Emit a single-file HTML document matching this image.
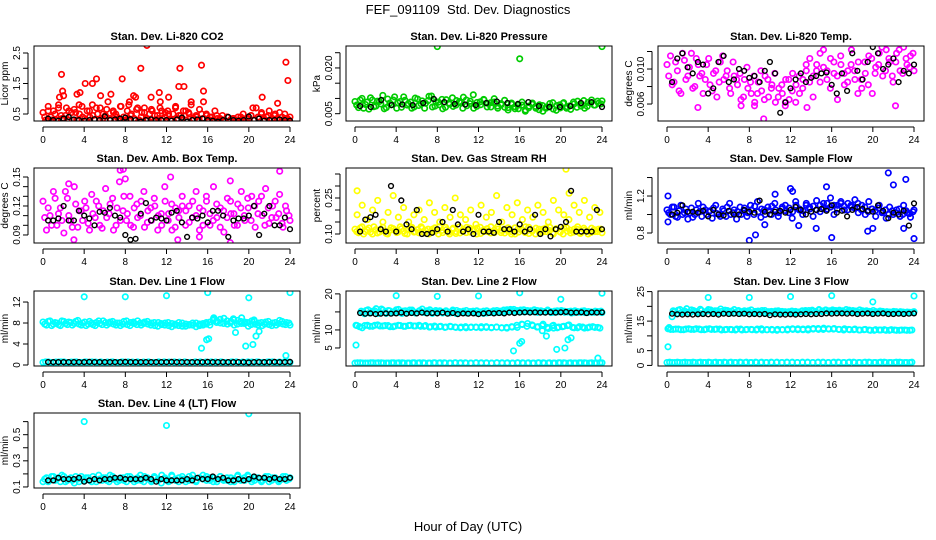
<!DOCTYPE html>
<html><head><meta charset="utf-8"><title>FEF_091109 Std. Dev. Diagnostics</title>
<style>
html,body{margin:0;padding:0;background:#fff;}
svg{display:block;font-family:"Liberation Sans",sans-serif;}
.t{font-weight:bold;font-size:11px;text-anchor:middle;}
.tl{font-size:10px;text-anchor:middle;}
.yl{font-size:10px;text-anchor:middle;}
</style></head>
<body>
<svg id="chart" width="936" height="540" viewBox="0 0 936 540">
<text x="468" y="14" font-size="13" text-anchor="middle">FEF_091109&#160; Std. Dev. Diagnostics</text>
<text x="468" y="531" font-size="13" text-anchor="middle">Hour of Day (UTC)</text>
</svg>
<script>
// ---------- data ----------
const hourTicks = [0,4,8,12,16,20,24];

const co2 = [0.55,0.3,0.75,0.4,0.6,0.3,0.8,0.45,0.35,0.7,0.3,0.55,0.65,0.3,0.5,0.75,0.35,0.6,0.4,0.8,0.3,0.5,0.7,0.35,0.45,0.9,0.3,0.6,0.5,0.35,0.75,0.4,0.3,0.8,0.5,0.35,0.65,0.3,0.55,0.7,0.35,0.5,0.6,0.3,0.45,0.7,0.35,0.55,0.6,0.3,0.5,0.75,0.35,0.45,0.6,0.3,0.55,0.8,0.35,0.4,0.3,0.5,0.35,0.45,0.3,0.4,0.25,0.35,0.3,0.45,0.25,0.4,0.3,0.35,0.25,0.4,0.3,0.5,0.25,0.35,0.45,0.3,0.7,0.35,0.5,0.3,0.4,0.6,0.3,0.45,0.35,0.55,0.3,0.5,0.35,0.4];
const co2B = [0.4,0.6,0.3,0.5,0.7,0.35,0.45,0.6,0.3,0.55,0.8,0.4,0.3,0.6,0.45,0.7,0.3,0.5,0.65,0.35,0.55,0.4,0.75,0.3,0.6,0.45,0.35,0.7,0.4,0.55,0.3,0.65,0.45,0.35,0.6,0.4,0.5,0.3,0.7,0.45,0.35,0.6,0.5,0.3,0.45,0.65,0.35,0.5,0.4,0.3,0.45,0.35,0.3,0.4,0.3,0.35,0.25,0.4,0.3,0.35,0.45,0.3,0.4,0.55,0.3,0.45,0.35,0.5,0.3,0.4,0.35,0.3];
const co2Out = [[1.8,1.8],[1.9,1.25],[2,1.1],[1.6,1.05],[3.3,1.15],[3.6,1.2],[4.1,1.5],[4.8,1.5],[5.2,1.65],[5.6,1.1],[6.6,1.15],[7.7,1.65],[9.5,2.0],[8.4,0.9],[10.1,2.75],[10.5,1.05],[11.3,1.2],[11.4,0.9],[12.2,1.05],[13.2,1.4],[13.3,2.0],[13.7,1.4],[15.4,2.1],[15.6,1.25],[15.6,0.9],[14.4,0.9],[21.3,1.05],[22.8,0.85],[23.6,2.2],[23.8,1.6],[16.7,0.6],[20.4,0.7],[8.8,1.1],[9,1.05]];
const co2Black = [0.35,0.3,0.28,0.35,0.4,0.32,0.3,0.28,0.3,0.33,0.3,0.42,0.3,0.32,0.35,0.38,0.33,0.3,0.25,0.3,0.32,0.3,0.3,0.3,0.28,0.32,0.38,0.25,0.3,0.32,0.35,0.3,0.28,0.25,0.3,0.4,0.3,0.28,0.3,0.42,0.3,0.35,0.28,0.3,0.3,0.32,0.3,0.28];

const press = [0.009,0.007,0.010,0.008,0.0065,0.0095,0.0075,0.009,0.011,0.007,0.0085,0.0095,0.0068,0.009,0.0105,0.0078,0.0088,0.0072,0.0098,0.0082,0.0068,0.0093,0.0108,0.0075,0.0088,0.0097,0.0071,0.0085,0.0102,0.0078,0.009,0.0068,0.0095,0.0083,0.0112,0.0074,0.0089,0.0097,0.0072,0.0086,0.0099,0.0075,0.0083,0.0094,0.007,0.0081,0.0066,0.0078,0.0088,0.0062,0.0075,0.0085,0.0068,0.0079,0.0058,0.0072,0.0083,0.0065,0.0077,0.0069,0.0086,0.0073,0.0064,0.0082,0.0091,0.0075,0.0068,0.0087,0.0095,0.0078,0.0084,0.0092];
const pressB = [0.0078,0.0095,0.0068,0.0088,0.0102,0.0073,0.0091,0.0082,0.0066,0.0098,0.0079,0.0105,0.0086,0.0071,0.0094,0.0083,0.0068,0.0101,0.0077,0.0092,0.0084,0.0107,0.0072,0.0089,0.0079,0.0066,0.0096,0.0081,0.0074,0.0093,0.0086,0.0104,0.0076,0.0091,0.0068,0.0087,0.0079,0.0095,0.0084,0.0072,0.0088,0.0068,0.0079,0.0071,0.0062,0.0085,0.0073,0.0066,0.0078,0.0058,0.0069,0.0081,0.0074,0.0063,0.0077,0.0068,0.0072,0.0086,0.0061,0.0079,0.0084,0.0068,0.0076,0.0088,0.0071,0.0082,0.0093,0.0074,0.0085,0.0078,0.0091,0.0082];
const pressOut = [[8,0.027],[16,0.023],[24,0.027]];
const pressBlack = [0.0075,0.0072,0.0095,0.0078,0.008,0.0078,0.0085,0.0098,0.0088,0.0082,0.008,0.0078,0.0085,0.009,0.0085,0.0082,0.0088,0.0075,0.0072,0.0072,0.0075,0.0085,0.0088,0.0072];

const temp = [0.0105,0.0115,0.0085,0.0098,0.0072,0.011,0.0092,0.0118,0.008,0.0105,0.0095,0.0088,0.0112,0.0075,0.0098,0.0085,0.0115,0.0092,0.0078,0.0108,0.0088,0.0095,0.0068,0.0102,0.0085,0.0092,0.0072,0.0098,0.0065,0.0088,0.0078,0.0095,0.0068,0.0082,0.0058,0.0088,0.0075,0.0062,0.0092,0.0078,0.0105,0.0085,0.0068,0.0098,0.0118,0.0102,0.0088,0.0112,0.0095,0.0065,0.0105,0.0082,0.0098,0.0122,0.0088,0.0108,0.0078,0.0095,0.0115,0.0072,0.0102,0.0118,0.0092,0.0122,0.0108,0.0085,0.0118,0.0098,0.0125,0.0105,0.0115,0.0098];
const tempB = [0.0092,0.0082,0.0108,0.0075,0.0118,0.0088,0.0102,0.0078,0.0112,0.0092,0.0072,0.0105,0.0082,0.0095,0.0068,0.0108,0.0088,0.0098,0.0072,0.0092,0.0082,0.0065,0.0088,0.0078,0.0072,0.0062,0.0085,0.0075,0.0092,0.0068,0.0082,0.0062,0.0078,0.0072,0.0088,0.0065,0.0095,0.0082,0.0072,0.0088,0.0098,0.0112,0.0092,0.0105,0.0085,0.0122,0.0098,0.0078,0.0108,0.0092,0.0115,0.0095,0.0085,0.0105,0.0098,0.0072,0.0088,0.0108,0.0082,0.0112,0.0095,0.0105,0.0125,0.0098,0.0112,0.0092,0.0108,0.0122,0.0095,0.0112,0.0102,0.0118];
const tempOut = [[9.4,0.0043],[3,0.0056],[8.5,0.0058],[7.2,0.0058],[22.2,0.0058],[11.5,0.0062],[13.6,0.0056]];
const tempBlack = [0.0085,0.0112,0.0118,0.0102,0.0095,0.0108,0.0105,0.0072,0.0078,0.0108,0.0115,0.0085,0.0088,0.01,0.0098,0.009,0.0092,0.0085,0.0098,0.0108,0.0095,0.005,0.0062,0.0078,0.0088,0.0095,0.0085,0.009,0.0092,0.0095,0.0096,0.0082,0.0072,0.0095,0.0075,0.0118,0.0098,0.0088,0.0108,0.0125,0.0118,0.01,0.0105,0.0112,0.0085,0.0098,0.0095,0.0105];

const amb = [0.125,0.095,0.11,0.135,0.1,0.118,0.092,0.128,0.105,0.14,0.098,0.115,0.125,0.102,0.132,0.108,0.12,0.097,0.138,0.112,0.128,0.1,0.145,0.115,0.105,0.13,0.098,0.122,0.11,0.135,0.103,0.118,0.128,0.095,0.112,0.14,0.105,0.122,0.098,0.115,0.13,0.1,0.12,0.108,0.135,0.095,0.115,0.125,0.1,0.14,0.108,0.118,0.093,0.128,0.112,0.1,0.122,0.135,0.105,0.118,0.13,0.098,0.125,0.11,0.138,0.102,0.12,0.108,0.132,0.098,0.115,0.105];
const ambB = [0.108,0.118,0.1,0.128,0.112,0.105,0.135,0.11,0.098,0.122,0.115,0.105,0.118,0.095,0.112,0.125,0.1,0.115,0.108,0.122,0.095,0.118,0.105,0.13,0.112,0.1,0.118,0.108,0.125,0.098,0.115,0.105,0.12,0.11,0.1,0.125,0.112,0.095,0.118,0.108,0.12,0.115,0.103,0.125,0.11,0.118,0.1,0.13,0.112,0.105,0.122,0.098,0.115,0.108,0.125,0.112,0.1,0.118,0.11,0.128,0.105,0.12,0.112,0.13,0.1,0.118,0.108,0.125,0.112,0.102,0.12,0.11];
const ambOut = [[7.5,0.157],[7.8,0.158],[8,0.148],[12.4,0.15],[18.2,0.146],[23,0.156],[2.5,0.143],[18.2,0.082],[3,0.085],[13.1,0.085],[15.2,0.088]];
const ambBlack = [0.105,0.105,0.107,0.12,0.105,0.105,0.115,0.11,0.107,0.1,0.114,0.113,0.118,0.11,0.108,0.09,0.085,0.086,0.112,0.123,0.105,0.108,0.107,0.105,0.113,0.115,0.103,0.088,0.108,0.107,0.11,0.103,0.115,0.115,0.11,0.088,0.105,0.107,0.107,0.11,0.12,0.09,0.112,0.12,0.1,0.1,0.108,0.096];

const rhLow = [0.12,0.105,0.13,0.11,0.125,0.1,0.118,0.108,0.128,0.102,0.115,0.122,0.106,0.13,0.112,0.1,0.125,0.108,0.118,0.13,0.104,0.12,0.11,0.126,0.1,0.115,0.128,0.108,0.12,0.102,0.13,0.112,0.106,0.124,0.118,0.1,0.128,0.11,0.122,0.104,0.116,0.13,0.106,0.12,0.112,0.1,0.126,0.108,0.118,0.13,0.102,0.115,0.124,0.106,0.12,0.11,0.128,0.1,0.118,0.108,0.125,0.112,0.104,0.12,0.13,0.106,0.116,0.1,0.124,0.11,0.12,0.105];
const rhLowB = [0.11,0.125,0.1,0.118,0.108,0.13,0.104,0.12,0.112,0.1,0.126,0.115,0.108,0.122,0.102,0.118,0.128,0.11,0.105,0.124,0.115,0.1,0.12,0.112,0.13,0.106,0.118,0.1,0.124,0.11,0.104,0.12,0.128,0.108,0.115,0.124,0.102,0.118,0.11,0.13,0.106,0.12,0.115,0.104,0.126,0.11,0.1,0.122,0.115,0.106,0.128,0.112,0.1,0.12,0.108,0.125,0.114,0.104,0.122,0.11,0.1,0.126,0.116,0.108,0.12,0.102,0.124,0.112,0.106,0.118,0.11,0.12];
const rhHigh = [0.18,0.22,0.16,0.2,0.24,0.15,0.19,0.26,0.17,0.21,0.15,0.18,0.2,0.16,0.23,0.19,0.15,0.21,0.17,0.25,0.18,0.16,0.2,0.14,0.22,0.17,0.19,0.26,0.15,0.21,0.18,0.23,0.16,0.2,0.17,0.22,0.19,0.15,0.24,0.2,0.18,0.16,0.22,0.19,0.24,0.17,0.21,0.19];
const rhOut = [[20.5,0.37],[20.8,0.27],[0.2,0.28]];
const rhBlack = [0.11,0.16,0.17,0.18,0.12,0.11,0.3,0.11,0.24,0.14,0.12,0.2,0.1,0.1,0.105,0.12,0.15,0.11,0.2,0.14,0.11,0.12,0.1,0.18,0.11,0.11,0.105,0.15,0.12,0.12,0.11,0.14,0.11,0.12,0.18,0.1,0.12,0.09,0.12,0.13,0.15,0.28,0.11,0.11,0.11,0.11,0.2,0.12];

const flow = [1.05,1.0,1.08,0.97,1.1,1.02,0.95,1.07,1.0,1.12,0.98,1.05,1.03,0.96,1.1,1.0,1.06,0.98,1.12,1.02,0.95,1.08,1.04,0.98,1.1,1.0,1.14,0.97,1.05,1.08,1.0,1.12,0.98,1.06,1.1,1.02,0.96,1.14,1.05,1.0,1.1,1.08,0.98,1.15,1.03,1.12,1.06,1.18,1.0,1.1,1.14,1.05,1.12,1.08,1.16,1.02,1.1,1.0,1.14,1.06,0.98,1.1,1.03,0.96,1.08,1.0,1.05,0.98,1.1,1.02,0.97,1.05];
const flowB = [1.02,1.08,0.98,1.04,1.0,1.06,1.02,0.97,1.05,1.03,1.08,1.0,1.04,1.07,1.01,0.98,1.04,1.08,1.0,1.05,1.03,1.0,1.07,1.02,1.05,1.09,1.03,1.06,1.0,1.04,1.09,1.05,1.02,1.08,1.04,1.07,1.03,1.1,1.06,1.04,1.12,1.06,1.09,1.05,1.1,1.07,1.12,1.08,1.1,1.06,1.12,1.09,1.05,1.1,1.07,1.12,1.05,1.08,1.03,1.06,1.04,1.07,1.02,1.05,1.0,1.04,1.02,1.06,1.0,1.04,1.01,1.03];
const flowOut = [[0.1,1.2],[0.1,0.92],[8,0.72],[8.6,0.78],[9.5,0.89],[10.5,1.22],[12,1.28],[12.2,1.25],[14.5,0.85],[15.5,1.3],[16,0.75],[21.5,1.45],[22,1.32],[23.2,1.38],[23,0.85],[24,0.74],[20,0.85],[19.5,0.82],[12.8,0.88]];
const flowBlack = [1.0,1.02,1.1,1.03,1.03,1.02,1.04,0.98,1.05,1.0,0.99,1.04,1.0,1.0,1.05,1.03,1.02,1.15,1.03,1.0,1.03,1.04,1.02,1.05,1.08,1.05,1.0,1.03,1.05,1.06,1.04,1.1,1.02,1.04,0.98,1.05,1.08,1.06,1.04,1.03,1.1,1.04,0.96,1.02,1.0,1.04,0.88,1.12];

const l1Hi = [8.2,7.6,8.4,7.8,8.0,7.5,8.3,7.7,8.1,7.9,8.5,7.6,8.2,7.8,8.0,7.5,8.4,7.7,8.1,7.9,8.3,7.6,8.0,7.8,8.4,7.5,8.2,7.7,8.0,7.9,8.3,7.6,8.1,7.4,7.9,7.6,8.1,7.3,7.8,7.5,8.0,7.4,7.7,7.6,8.0,7.5,7.9,7.8,8.2,8.8,8.4,8.0,8.9,7.8,8.3,7.6,8.5,7.9,8.2,7.4,8.4,7.8,8.0,7.5,8.2,7.7,8.0,7.6,8.5,7.8,8.1,7.6];
const l1HiB = [7.8,8.3,7.5,8.1,7.7,8.4,7.9,8.2,7.6,8.3,7.8,8.0,7.5,8.3,7.7,8.1,7.9,8.4,7.6,8.2,7.8,8.0,7.5,8.3,7.7,8.1,7.9,8.4,7.6,8.2,7.8,8.0,7.5,8.1,7.7,8.0,7.5,7.9,7.6,8.1,7.4,7.8,7.6,8.0,7.3,7.8,7.6,8.1,7.6,8.5,8.1,8.7,7.9,8.4,8.0,8.6,7.8,8.3,7.9,8.1,7.7,8.3,7.6,8.1,7.8,8.3,7.5,8.1,7.9,8.3,7.7,8.0];
const l1Lo = [0.5,0.6,0.5,0.55,0.6,0.5,0.55,0.5,0.6,0.5,0.55,0.6,0.5,0.55,0.5,0.6,0.5,0.55,0.6,0.5,0.55,0.5,0.6,0.5,0.55,0.6,0.5,0.55,0.5,0.6,0.5,0.55,0.6,0.5,0.55,0.5,0.6,0.5,0.55,0.6,0.5,0.55,0.5,0.6,0.5,0.55,0.6,0.5];
const l1LoB = [0.6,0.5,0.55,0.6,0.5,0.55,0.6,0.5,0.55,0.6,0.5,0.5,0.55,0.6,0.5,0.55,0.6,0.5,0.5,0.55,0.6,0.5,0.55,0.6,0.5,0.5,0.55,0.6,0.5,0.55,0.6,0.5,0.5,0.55,0.6,0.5,0.55,0.6,0.5,0.5,0.55,0.6,0.5,0.55,0.6,0.5,0.5,0.55];
const l1Out = [[4,13],[8,13],[12,13.2],[16,13.8],[20,12.8],[24,13.8],[15.4,3.2],[16.1,5],[15.9,4.8],[18.7,6.2],[19.3,9],[19.7,3.6],[20.4,3.9],[20.7,5.5],[21,6.4],[23.6,1.8],[20.5,8.6],[18.5,8.8],[16.6,9]];
const l1Black = [0.55,0.55,0.55,0.55,0.55,0.55,0.55,0.55,0.6,0.55,0.55,0.55,0.55,0.55,0.55,0.6,0.55,0.55,0.55,0.55,0.55,0.55,0.55,0.55,0.6,0.55,0.55,0.55,0.55,0.55,0.55,0.6,0.55,0.55,0.55,0.55,0.55,0.55,0.55,0.5,0.55,0.55,0.55,0.55,0.6,0.55,0.55,0.6];

const l2Hi = [15.2,14.5,15.6,14.8,15.3,14.6,15.8,14.9,15.4,14.7,15.1,15.7,14.6,15.3,14.9,15.5,14.7,15.2,15.8,14.8,15.1,14.6,15.4,15.0,14.7,15.3,14.9,15.5,14.6,15.1,14.8,15.4,14.9,15.2,14.7,15.0,14.6,15.3,14.8,15.1,14.9,15.2,15.0,15.6,15.3,15.7,15.1,15.5,15.0,15.4,15.2,15.6,14.9,15.3,15.1,15.5,14.8,15.2,15.0,15.4,14.9,15.1,14.7,15.3,14.9,15.2,14.8,15.1,14.9,15.2,15.0,14.8];
const l2HiB = [14.8,15.4,14.7,15.2,15.9,14.9,15.5,14.6,15.3,15.0,15.6,14.8,15.2,14.7,15.5,15.1,14.8,15.4,14.9,15.3,15.6,14.9,15.0,15.3,14.8,15.1,14.7,15.2,15.4,14.9,15.2,14.7,15.1,14.8,15.3,14.9,15.2,14.7,15.0,15.3,15.4,14.9,15.5,15.1,15.7,15.2,15.4,15.0,15.6,15.1,15.3,15.0,15.4,15.2,15.0,15.3,15.1,14.9,15.3,15.0,15.2,15.0,15.2,14.8,15.1,14.9,15.3,14.8,15.0,14.9,15.1,15.2];
const l2Mid = [11.2,10.6,11.3,11.0,11.4,11.1,11.2,10.9,11.3,11.0,11.2,11.1,11.3,11.0,10.8,11.1,10.9,10.7,11.0,10.8,10.6,10.9,10.7,10.8,10.6,10.9,10.7,10.8,10.6,10.5,10.8,10.7,11.5,11.8,11.2,10.9,11.6,10.4,11.3,10.8,11.0,11.4,10.6,10.9,10.5,10.8,10.7,10.5];
const l2MidB = [10.9,11.2,11.0,11.3,11.1,11.2,10.9,11.1,11.2,11.0,11.3,11.1,11.0,11.2,10.9,10.8,11.0,10.8,10.9,10.7,10.8,10.6,10.8,10.7,10.9,10.7,10.6,10.8,10.6,10.7,10.9,11.3,11.6,11.0,11.4,10.8,11.2,10.7,11.1,10.6,10.9,11.2,10.7,10.6,10.8,10.6,10.9,10.7];
const l2Low = [0.8,0.9,0.8,0.9,0.8,0.9,0.8,0.9,0.8,0.9,0.8,0.9,0.8,0.9,0.8,0.9,0.8,0.9,0.8,0.9,0.8,0.9,0.8,0.9,0.8,0.9,0.8,0.9,0.8,0.9,0.8,0.9,0.8,0.9,0.8,0.9,0.8,0.9,0.8,0.9,0.8,0.9,0.8,0.9,0.8,0.9,0.8,0.9];
const l2LowB = [0.9,0.8,0.8,0.9,0.9,0.8,0.8,0.9,0.9,0.8,0.8,0.9,0.9,0.8,0.8,0.9,0.9,0.8,0.8,0.9,0.9,0.8,0.8,0.9,0.9,0.8,0.8,0.9,0.9,0.8,0.8,0.9,0.9,0.8,0.8,0.9,0.9,0.8,0.8,0.9,0.9,0.8,0.8,0.9,0.9,0.8,0.8,0.9];
const l2Out = [[4,19.5],[8,19.3],[12,19.4],[16,20.3],[20,18.5],[24,20.2],[0.1,5.8],[0.1,11.3],[15.4,4.2],[16,6.3],[16.2,6.8],[19.6,4.6],[20.4,5],[20.7,7.3],[21,7.8],[18.6,8.3],[19.3,10.5],[23.6,2.2],[18.2,9.8]];
const l2Black = [14.7,14.5,14.6,14.4,14.5,14.6,14.5,14.6,14.8,14.5,14.7,14.6,14.8,14.6,14.7,14.6,14.8,14.5,14.7,14.4,14.6,14.5,14.6,14.4,14.6,14.7,14.6,14.7,14.6,14.8,14.7,14.8,14.9,14.8,14.9,14.8,14.8,14.9,14.8,14.9,15.0,14.8,14.8,14.9,14.7,14.9,14.8,14.9];

const l3Hi = [18.5,17.6,18.9,18.1,19.2,17.8,18.6,18.2,19.0,17.7,18.4,18.8,17.9,18.5,19.1,18.0,18.6,17.8,18.9,18.3,17.7,18.5,18.1,18.8,17.9,18.4,18.0,18.6,17.8,18.3,18.0,18.5,17.7,18.2,17.9,18.4,17.8,18.1,18.3,18.6,18.0,18.7,18.3,18.9,18.2,18.6,18.1,18.8,18.4,18.7,18.2,18.9,18.3,18.6,18.0,18.8,18.2,18.5,17.9,18.6,18.1,18.4,17.9,18.2,18.0,18.3,17.9,18.2,18.0,18.1,17.9,18.2];
const l3HiB = [18.2,18.7,17.9,18.4,18.0,18.8,18.3,17.8,18.6,18.1,18.9,18.2,18.5,17.9,18.3,18.7,18.1,18.4,17.9,18.6,18.2,18.0,18.5,17.8,18.3,18.1,18.6,17.9,18.2,18.0,18.4,17.9,18.3,18.0,18.2,17.8,18.3,18.0,18.5,18.2,18.6,18.4,18.1,18.7,18.4,18.8,18.5,18.3,18.6,18.2,18.5,18.1,18.7,18.3,18.4,18.1,18.5,18.2,18.3,17.9,18.2,18.0,18.3,17.9,18.1,18.0,18.2,17.8,18.1,17.9,18.0,18.1];
const l3Mid = [12.4,12.2,12.3,12.1,12.4,12.2,12.3,12.1,12.4,12.2,12.3,12.1,12.2,12.0,12.3,12.1,12.2,12.0,12.4,12.1,12.2,11.9,12.1,12.0,12.4,12.1,12.3,12.0,12.5,12.2,12.6,12.3,12.5,12.2,12.4,12.1,12.3,12.0,12.2,11.9,12.1,12.0,11.9,12.1,11.9,12.0,11.9,12.0];
const l3MidB = [12.2,12.3,12.1,12.3,12.2,12.4,12.1,12.3,12.2,12.3,12.0,12.2,12.1,12.3,12.0,12.2,12.1,12.3,12.0,12.1,12.0,12.2,12.1,12.3,12.2,12.4,12.1,12.4,12.3,12.5,12.2,12.4,12.3,12.2,12.0,12.2,12.1,12.0,12.1,12.0,11.9,12.0,12.1,11.9,12.0,11.9,12.0,11.9];
const l3Low = [1,1,1.1,1,1,1.1,1,1,1.1,1,1,1.1,1,1,1.1,1,1,1.1,1,1,1.1,1,1,1.1,1,1,1.1,1,1,1.1,1,1,1.1,1,1,1.1,1,1,1.1,1,1,1.1,1,1,1.1,1,1,1.1];
const l3LowB = [1.1,1,1,1.1,1,1,1.1,1,1,1.1,1,1,1.1,1,1,1.1,1,1,1.1,1,1,1.1,1,1,1.1,1,1,1.1,1,1,1.1,1,1,1.1,1,1,1.1,1,1,1.1,1,1,1.1,1,1,1.1,1,1];
const l3Out = [[4,23],[8,23],[12,23.3],[16,23.6],[20,21.5],[24,23.5],[0.1,6.3],[0.2,12.8],[0.5,16.5]];
const l3Black = [17.5,17.3,17.2,17.3,17.2,17.3,17.4,17.3,17.4,17.2,17.5,17.4,17.5,17.4,17.5,17.3,17.4,17.3,17.4,17.0,17.3,17.2,17.2,17.3,17.2,17.3,17.4,17.3,17.4,17.4,17.6,17.5,17.6,17.6,17.5,17.6,17.4,17.5,17.6,17.4,17.5,17.6,17.4,17.4,17.5,17.4,17.5,17.6];

const l4 = [0.14,0.17,0.15,0.18,0.16,0.14,0.18,0.15,0.17,0.13,0.16,0.18,0.15,0.17,0.14,0.16,0.19,0.15,0.17,0.14,0.18,0.16,0.15,0.17,0.14,0.18,0.16,0.15,0.19,0.14,0.17,0.15,0.18,0.16,0.13,0.17,0.15,0.19,0.16,0.14,0.18,0.16,0.15,0.19,0.14,0.17,0.16,0.18,0.15,0.17,0.14,0.18,0.16,0.15,0.17,0.14,0.19,0.16,0.15,0.18,0.14,0.17,0.16,0.15,0.18,0.14,0.17,0.16,0.15,0.18,0.15,0.17];
const l4B = [0.16,0.14,0.18,0.15,0.17,0.19,0.14,0.16,0.15,0.18,0.14,0.16,0.17,0.15,0.18,0.14,0.16,0.17,0.15,0.19,0.16,0.14,0.17,0.15,0.18,0.16,0.14,0.17,0.15,0.18,0.16,0.14,0.17,0.15,0.19,0.16,0.14,0.18,0.15,0.17,0.16,0.14,0.18,0.16,0.15,0.17,0.19,0.15,0.17,0.14,0.16,0.18,0.15,0.17,0.14,0.16,0.18,0.15,0.17,0.19,0.16,0.15,0.17,0.14,0.16,0.18,0.15,0.17,0.14,0.16,0.18,0.16];
const l4Out = [[4,0.6],[12,0.57],[20,0.66]];
const l4Black = [0.15,0.15,0.17,0.16,0.16,0.16,0.17,0.14,0.15,0.16,0.15,0.16,0.16,0.17,0.17,0.16,0.16,0.16,0.16,0.17,0.16,0.14,0.16,0.15,0.15,0.15,0.15,0.16,0.15,0.17,0.16,0.16,0.18,0.16,0.17,0.15,0.15,0.16,0.15,0.16,0.18,0.17,0.17,0.16,0.17,0.16,0.16,0.17];

// ---------- layout / drawing ----------
const NS = "http://www.w3.org/2000/svg";
const svg = document.getElementById('chart');
function mk(tag, attrs, parent){ const e=document.createElementNS(NS,tag); for(const k in attrs) e.setAttribute(k,attrs[k]); (parent||svg).appendChild(e); return e; }

const panels = [
 {name:'co2', title:'Stan. Dev. Li-820 CO2', ylab:'Licor ppm', col:0,row:0, dom:[0.27,2.73], ticks:[0.5,1,1.5,2,2.5], labels:[0.5,1.5,2.5], fmt:v=>String(v),
  clouds:[{v:co2,c:'#ff0000',s:0,e:24},{v:co2B,c:'#ff0000',s:0.17,e:23.9}], out:[{p:co2Out,c:'#ff0000'}], black:co2Black},
 {name:'pressure', title:'Stan. Dev. Li-820 Pressure', ylab:'kPa', col:1,row:0, dom:[0.0026,0.0272], ticks:[0.005,0.01,0.015,0.02,0.025], labels:[0.005,0.02], fmt:v=>v.toFixed(3),
  clouds:[{v:press,c:'#00cc00',s:0,e:24},{v:pressB,c:'#00cc00',s:0.17,e:23.9}], out:[{p:pressOut,c:'#00cc00'}], black:pressBlack},
 {name:'temp', title:'Stan. Dev. Li-820 Temp.', ylab:'degrees C', col:2,row:0, dom:[0.00406,0.01263], ticks:[0.006,0.008,0.01,0.012], labels:[0.006,0.01], fmt:v=>v.toFixed(3),
  clouds:[{v:temp,c:'#ff00ff',s:0,e:24},{v:tempB,c:'#ff00ff',s:0.17,e:23.9}], out:[{p:tempOut,c:'#ff00ff'}], black:tempBlack},
 {name:'amb-temp', title:'Stan. Dev. Amb. Box Temp.', ylab:'degrees C', col:0,row:1, dom:[0.0817,0.1593], ticks:[0.09,0.1,0.11,0.12,0.13,0.14,0.15], labels:[0.09,0.12,0.15], fmt:v=>v.toFixed(2),
  clouds:[{v:amb,c:'#ff00ff',s:0,e:24},{v:ambB,c:'#ff00ff',s:0.17,e:23.9}], out:[{p:ambOut,c:'#ff00ff'}], black:ambBlack},
 {name:'rh', title:'Stan. Dev. Gas Stream RH', ylab:'percent', col:1,row:1, dom:[0.0625,0.375], ticks:[0.1,0.15,0.2,0.25,0.3,0.35], labels:[0.1,0.25], fmt:v=>v.toFixed(2),
  clouds:[{v:rhLow,c:'#ffff00',s:0,e:24},{v:rhLowB,c:'#ffff00',s:0.17,e:23.9},{v:rhHigh,c:'#ffff00',s:0.2,e:23.8}], out:[{p:rhOut,c:'#ffff00'}], black:rhBlack},
 {name:'sample-flow', title:'Stan. Dev. Sample Flow', ylab:'ml/min', col:2,row:1, dom:[0.692,1.503], ticks:[0.8,1.0,1.2,1.4], labels:[0.8,1.2], fmt:v=>v.toFixed(1),
  clouds:[{v:flow,c:'#0000ff',s:0,e:24},{v:flowB,c:'#0000ff',s:0.17,e:23.9}], out:[{p:flowOut,c:'#0000ff'}], black:flowBlack},
 {name:'line1-flow', title:'Stan. Dev. Line 1 Flow', ylab:'ml/min', col:0,row:2, dom:[-0.19,14.1], ticks:[0,4,8,12], labels:[0,4,8,12], fmt:v=>String(v),
  clouds:[{v:l1Hi,c:'#00ffff',s:0,e:24},{v:l1HiB,c:'#00ffff',s:0.17,e:23.9},{v:l1Lo,c:'#00ffff',s:0,e:24},{v:l1LoB,c:'#00ffff',s:0.25,e:23.8}], out:[{p:l1Out,c:'#00ffff'}], black:l1Black},
 {name:'line2-flow', title:'Stan. Dev. Line 2 Flow', ylab:'ml/min', col:1,row:2, dom:[0,20.8], ticks:[5,10,15,20], labels:[5,10,20], fmt:v=>String(v),
  clouds:[{v:l2Hi,c:'#00ffff',s:0.6,e:24},{v:l2HiB,c:'#00ffff',s:0.75,e:23.9},{v:l2Mid,c:'#00ffff',s:0.2,e:23.8},{v:l2MidB,c:'#00ffff',s:0.45,e:23.6},{v:l2Low,c:'#00ffff',s:0,e:24},{v:l2LowB,c:'#00ffff',s:0.25,e:23.8}], out:[{p:l2Out,c:'#00ffff'}], black:l2Black},
 {name:'line3-flow', title:'Stan. Dev. Line 3 Flow', ylab:'ml/min', col:2,row:2, dom:[-0.2,25.2], ticks:[0,5,10,15,20,25], labels:[0,5,15,25], fmt:v=>String(v),
  clouds:[{v:l3Hi,c:'#00ffff',s:0.6,e:24},{v:l3HiB,c:'#00ffff',s:0.75,e:23.9},{v:l3Mid,c:'#00ffff',s:0.1,e:23.8},{v:l3MidB,c:'#00ffff',s:0.35,e:23.6},{v:l3Low,c:'#00ffff',s:0,e:23.8},{v:l3LowB,c:'#00ffff',s:0.25,e:23.6}], out:[{p:l3Out,c:'#00ffff'}], black:l3Black},
 {name:'line4-flow', title:'Stan. Dev. Line 4 (LT) Flow', ylab:'ml/min', col:0,row:3, dom:[0.092,0.666], ticks:[0.1,0.2,0.3,0.4,0.5,0.6], labels:[0.1,0.3,0.5], fmt:v=>v.toFixed(1),
  clouds:[{v:l4,c:'#00ffff',s:0,e:24},{v:l4B,c:'#00ffff',s:0.17,e:23.9}], out:[{p:l4Out,c:'#00ffff'}], black:l4Black}
];

const colX = [34,346,658], rowY = [46,168,291,413];
const W = 266, H = 75;

panels.forEach(p=>{
  const L = colX[p.col], T = rowY[p.row], B = T+H;
  const g = mk('g',{});
  
  
  const xs = h => L + 9 + h*(247/24);
  const ys = v => B - (v - p.dom[0])/(p.dom[1]-p.dom[0])*H;
  const clip = mk('clipPath',{id:'c-'+p.name}, g);
  mk('rect',{x:L,y:T,width:W,height:H}, clip);
  const marks = mk('g',{'clip-path':'url(#c-'+p.name+')'}, g);
  
  
  function dot(h,v,c,name,r,sw){
    const e = mk('circle',{cx:xs(h).toFixed(1),cy:ys(v).toFixed(1),r:r,fill:'none',stroke:c,'stroke-width':sw}, marks);
    
    
  }
  p.clouds.forEach(cl=>{
    const n = cl.v.length;
    cl.v.forEach((v,i)=>{ dot(cl.s + i*(cl.e-cl.s)/(n-1), v, cl.c, 'series-point', 2.7, 1.7); });
  });
  p.out.forEach(o=> o.p.forEach(pt=> dot(pt[0],pt[1],o.c,'outlier-point', 2.7, 1.7)));
  const nb = p.black.length;
  p.black.forEach((v,i)=> dot(0.5 + i*23.5/(nb-1), v, '#000', 'hourly-mean-point', 2.4, 1.4));
  const fr = mk('rect',{x:L,y:T,width:W,height:H,fill:'none',stroke:'#000','stroke-width':1}, g);
  
  
  const tt = mk('text',{x:L+W/2,y:T-6,class:'t'}, g); tt.textContent = p.title;
  
  
  const xa = mk('g',{}, g);
  
  
  mk('line',{x1:xs(0),x2:xs(24),y1:B+6,y2:B+6,stroke:'#000'}, xa);
  hourTicks.forEach(h=>{
    mk('line',{x1:xs(h),x2:xs(h),y1:B+6,y2:B+11,stroke:'#000'}, xa);
    const t = mk('text',{x:xs(h),y:B+22,class:'tl'}, xa); t.textContent = h;
    
    
  });
  const ya = mk('g',{}, g);
  
  
  mk('line',{x1:L-6,x2:L-6,y1:ys(p.ticks[0]),y2:ys(p.ticks[p.ticks.length-1]),stroke:'#000'}, ya);
  p.ticks.forEach(v=> mk('line',{x1:L-11,x2:L-6,y1:ys(v),y2:ys(v),stroke:'#000'}, ya));
  p.labels.forEach(v=>{
    const x = L-14, y = ys(v);
    const t = mk('text',{x:x,y:y,class:'yl',transform:'rotate(-90 '+x+' '+y+')'}, ya); t.textContent = p.fmt(v);
    
    
  });
  const yx = L-26, yy = T+H/2;
  const yt = mk('text',{x:yx,y:yy,class:'yl',transform:'rotate(-90 '+yx+' '+yy+')'}, ya); yt.textContent = p.ylab;
  
  
});
</script>
</body></html>
